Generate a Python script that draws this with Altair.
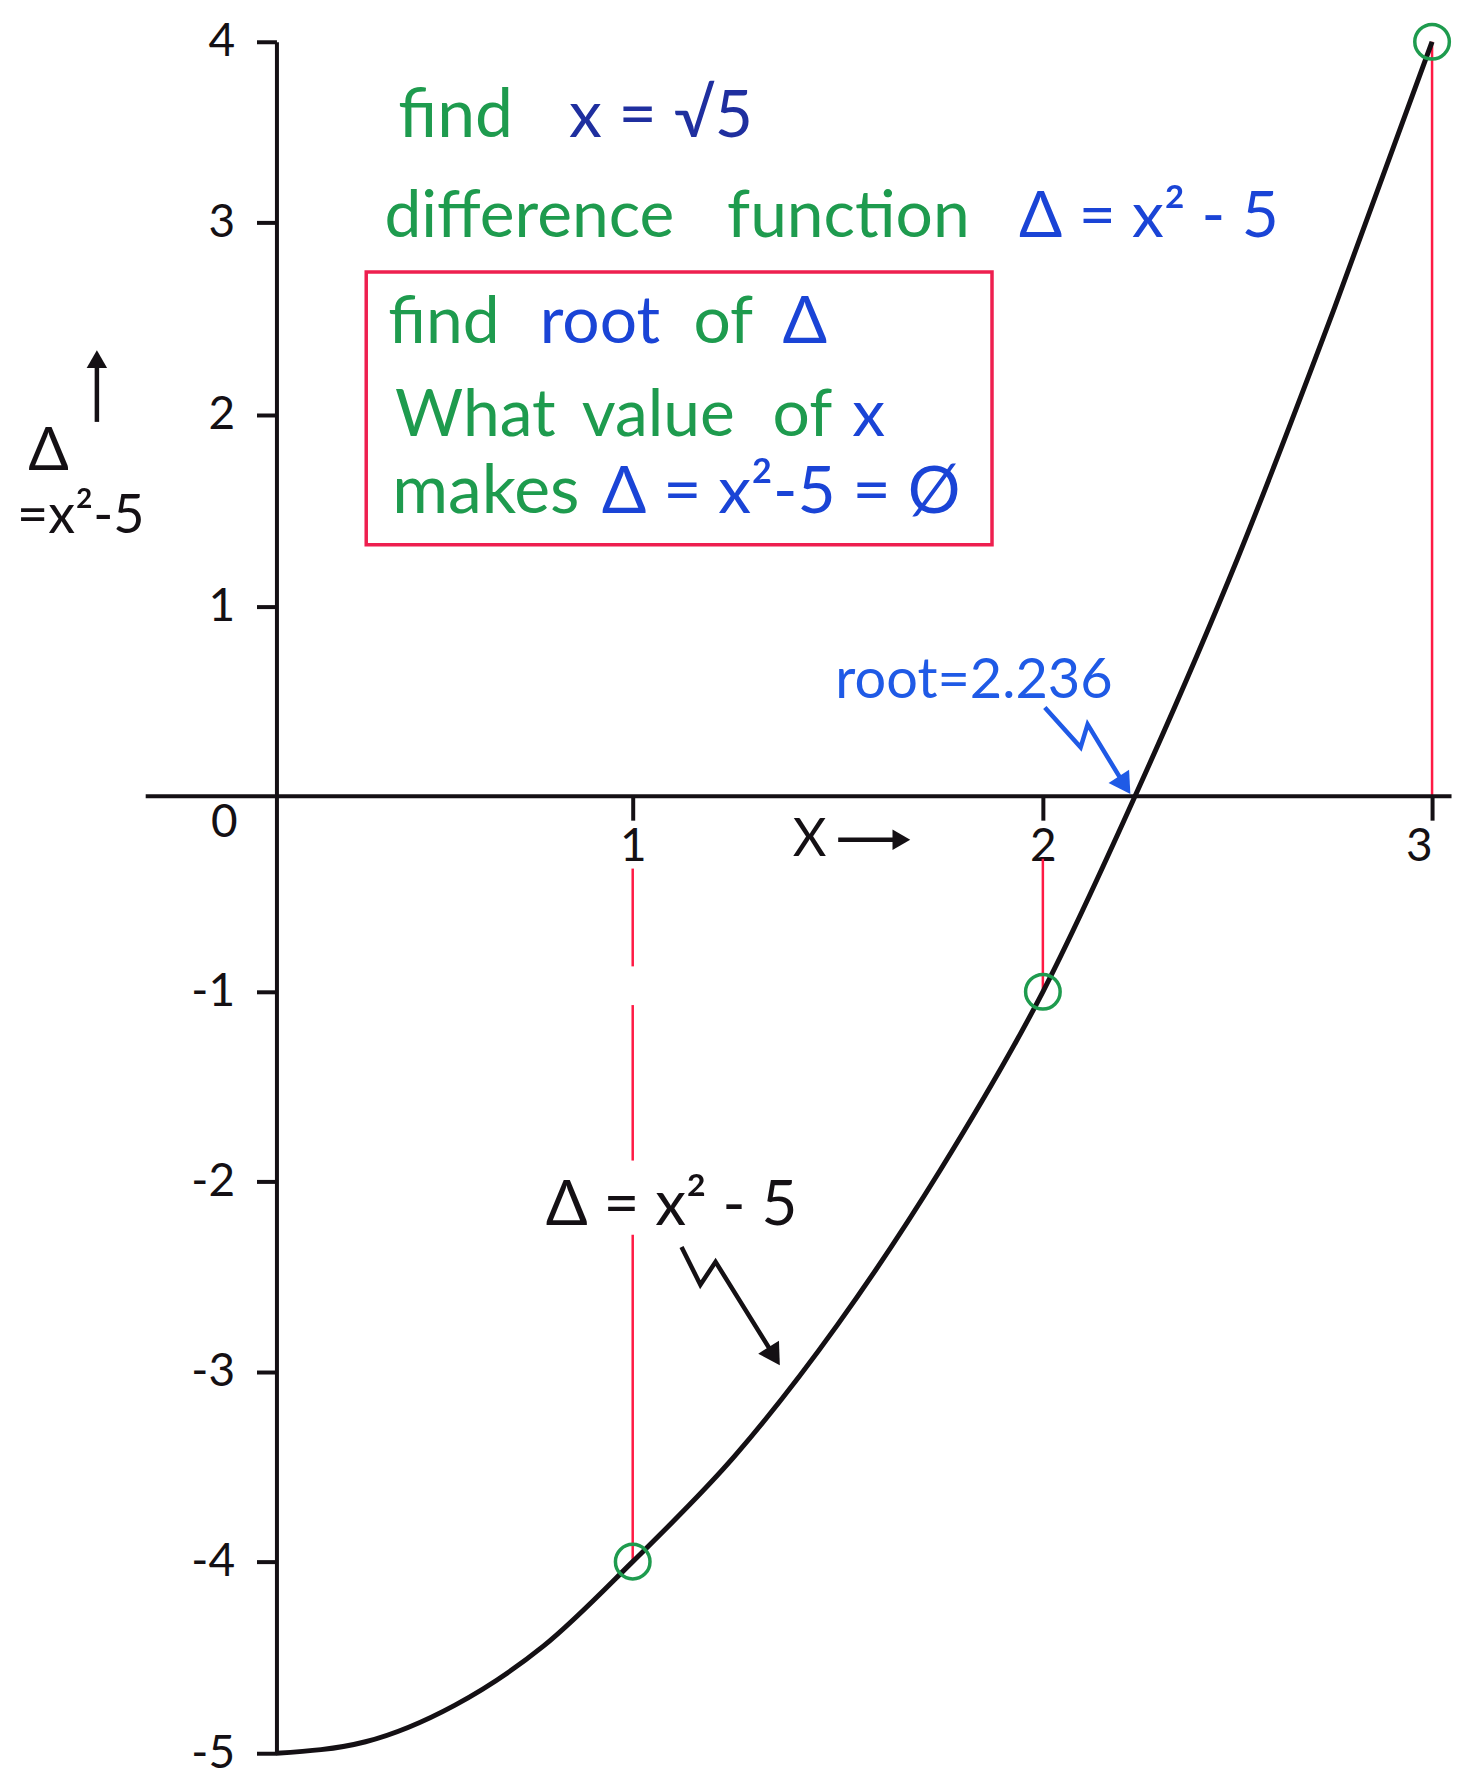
import altair as alt
import pandas as pd

FONT = "Lato, DejaVu Sans, sans-serif"
GREEN = "#1e9b4e"
BLUE = "#1a44d6"
NAVY = "#1f2f9f"
LBLUE = "#1f5ae6"
RED = "#ff1a44"
BOXRED = "#ee1f4f"
INK = "#141014"

# ---- data ----
curve_x = [0.0, 0.25, 0.5, 0.75, 1.0, 1.25, 1.5, 1.75, 2.0, 2.25, 2.5, 2.75, 3.0]
curve_d = [-5.0, -4.94, -4.75, -4.44, -4.0, -3.44, -2.75, -1.94, -1.0, 0.06, 1.25, 2.56, 4.0]

mark_x = [1, 2, 3]
mark_d = [-4, -1, 4]

x_ticks = [1, 2, 3]
y_ticks = [-5, -4, -3, -2, -1, 1, 2, 3, 4]

# red drop lines (x, from, to)
drop_x = [3, 2, 1, 1, 1]
drop_from = [0.0, -0.32, -0.37, -1.07, -2.28]
drop_to = [4.0, -1.0, -0.87, -1.89, -4.0]

# ---- scales / axes ----
x_scale = alt.Scale(domain=[0, 1, 2, 3], range=[0, 357, 768, 1158], nice=False, zero=False)
y_scale = alt.Scale(domain=[-5, -4, -3, -2, -1, 0, 1, 2, 3, 4],
                    range=[1715, 1523, 1333, 1142, 952, 756, 566, 374, 181, 0],
                    nice=False, zero=False)

x_axis = alt.Axis(values=x_ticks, orient="bottom", offset=-959, domain=False,
                  tickColor=INK, tickWidth=4, tickSize=24, labelFontSize=46,
                  labelFont=FONT, labelColor=INK, labelPadding=4, grid=False, title=None)
y_axis = alt.Axis(values=y_ticks, orient="left", domainColor=INK, domainWidth=4,
                  tickColor=INK, tickWidth=4, tickSize=20, labelFontSize=46,
                  labelFont=FONT, labelColor=INK, labelPadding=22, grid=False, title=None,
                  labelExpr="datum.value < 0 ? '-' + (-datum.value) : '' + datum.value")


def X(f="x"):
    return alt.X(f"{f}:Q", scale=x_scale, axis=x_axis)


def Y(f="y"):
    return alt.Y(f"{f}:Q", scale=y_scale, axis=y_axis)


df_curve = pd.DataFrame({"x": curve_x, "y": curve_d})
df_marks = pd.DataFrame({"x": mark_x, "y": mark_d})
df_drop = pd.DataFrame({"x": drop_x, "y": drop_from, "y2": drop_to})
df_xaxis = pd.DataFrame({"x": [-0.367], "x2": [3.05], "y": [0.0]})
df_box = pd.DataFrame({"x": [0.252], "x2": [1.876], "y": [2.742], "y2": [1.323]})

left_texts = pd.DataFrame([
    ("find", 0.342, 3.475, GREEN, 68),
    ("x = √5", 0.821, 3.475, NAVY, 66),
    ("difference", 0.303, 2.923, GREEN, 66),
    ("function", 1.23, 2.923, GREEN, 66),
    ("Δ = x² - 5", 1.942, 2.923, BLUE, 64),
    ("find", 0.314, 2.376, GREEN, 66),
    ("root", 0.739, 2.376, BLUE, 66),
    ("of", 1.148, 2.376, GREEN, 66),
    ("Δ", 1.365, 2.376, BLUE, 66),
    ("What", 0.333, 1.89, GREEN, 66),
    ("value", 0.857, 1.89, GREEN, 66),
    ("of", 1.341, 1.89, GREEN, 66),
    ("x", 1.535, 1.89, BLUE, 66),
    ("makes", 0.325, 1.49, GREEN, 68),
    ("Δ = x²-5 = Ø", 0.913, 1.49, BLUE, 66),
    ("root=2.236", 1.494, 0.52, LBLUE, 56),
    ("Δ = x² - 5", 0.756, -2.229, INK, 62),
    ("Δ", -0.697, 1.714, INK, 60),
    ("=x²-5", -0.728, 1.385, INK, 54),
], columns=["text", "x", "y", "color", "size"])

center_texts = pd.DataFrame([
    ("X", 1.431, -0.223, INK, 52),
    ("0", -0.146, -0.137, INK, 46),
], columns=["text", "x", "y", "color", "size"])

paths = pd.DataFrame([
    # id, order, x, y, color
    ("blue", 0, 2.005, 0.468, LBLUE),
    ("blue", 1, 2.097, 0.258, LBLUE),
    ("blue", 2, 2.115, 0.379, LBLUE),
    ("blue", 3, 2.210, 0.058, LBLUE),
    ("black", 0, 1.119, -2.344, INK),
    ("black", 1, 1.165, -2.542, INK),
    ("black", 2, 1.202, -2.422, INK),
    ("black", 3, 1.345, -2.917, INK),
    ("yarrow", 0, -0.504, 1.964, INK),
    ("yarrow", 1, -0.504, 2.26, INK),
    ("xarrow", 0, 1.501, -0.223, INK),
    ("xarrow", 1, 1.64, -0.223, INK),
], columns=["id", "order", "x", "y", "color"])

heads = pd.DataFrame([
    (-0.504, 2.29, 0, 420, INK),
    (1.655, -0.223, 90, 420, INK),
    (2.210, 0.058, 147, 600, LBLUE),
    (1.345, -2.917, 148, 600, INK),
], columns=["x", "y", "angle", "size", "color"])

curve = alt.Chart(df_curve).mark_line(color=INK, strokeWidth=5, interpolate="monotone").encode(
    x=X(), y=Y())

xaxis_line = alt.Chart(df_xaxis).mark_rule(color=INK, strokeWidth=4).encode(
    x=X(), x2="x2:Q", y=Y())

drops = alt.Chart(df_drop).mark_rule(color=RED, strokeWidth=2.5).encode(
    x=X(), y=Y(), y2="y2:Q")

circles = alt.Chart(df_marks).mark_point(shape="circle", filled=False, strokeWidth=3.5,
                                         size=1200, opacity=1).encode(
    x=X(), y=Y(), color=alt.value(GREEN))

box = alt.Chart(df_box).mark_rect(fillOpacity=0, stroke=BOXRED, strokeWidth=3.5).encode(
    x=X(), x2="x2:Q", y=Y(), y2="y2:Q")

ltext = alt.Chart(left_texts).mark_text(align="left", baseline="alphabetic", font=FONT).encode(
    x=X(), y=Y(), text="text:N",
    color=alt.Color("color:N", scale=None), size=alt.Size("size:Q", scale=None))

ctext = alt.Chart(center_texts).mark_text(align="center", baseline="middle", font=FONT).encode(
    x=X(), y=Y(), text="text:N",
    color=alt.Color("color:N", scale=None), size=alt.Size("size:Q", scale=None))

squiggles = alt.Chart(paths).mark_line(strokeWidth=4.5).encode(
    x=X(), y=Y(), detail="id:N", order="order:Q", color=alt.Color("color:N", scale=None))

arrowheads = alt.Chart(heads).mark_point(shape="triangle-up", filled=True, opacity=1).encode(
    x=X(), y=Y(), angle=alt.Angle("angle:Q", scale=None),
    size=alt.Size("size:Q", scale=None), color=alt.Color("color:N", scale=None))

chart = alt.layer(drops, xaxis_line, box, curve, circles, squiggles, arrowheads, ltext, ctext).properties(
    width=1158, height=1715,
    padding={"left": 269, "top": 32, "right": 30, "bottom": 28},
    autosize=alt.AutoSizeParams(type="none"),
    background="white",
).configure_view(stroke=None)

chart.save("out.html", embed_options={"renderer": "svg", "actions": False})
